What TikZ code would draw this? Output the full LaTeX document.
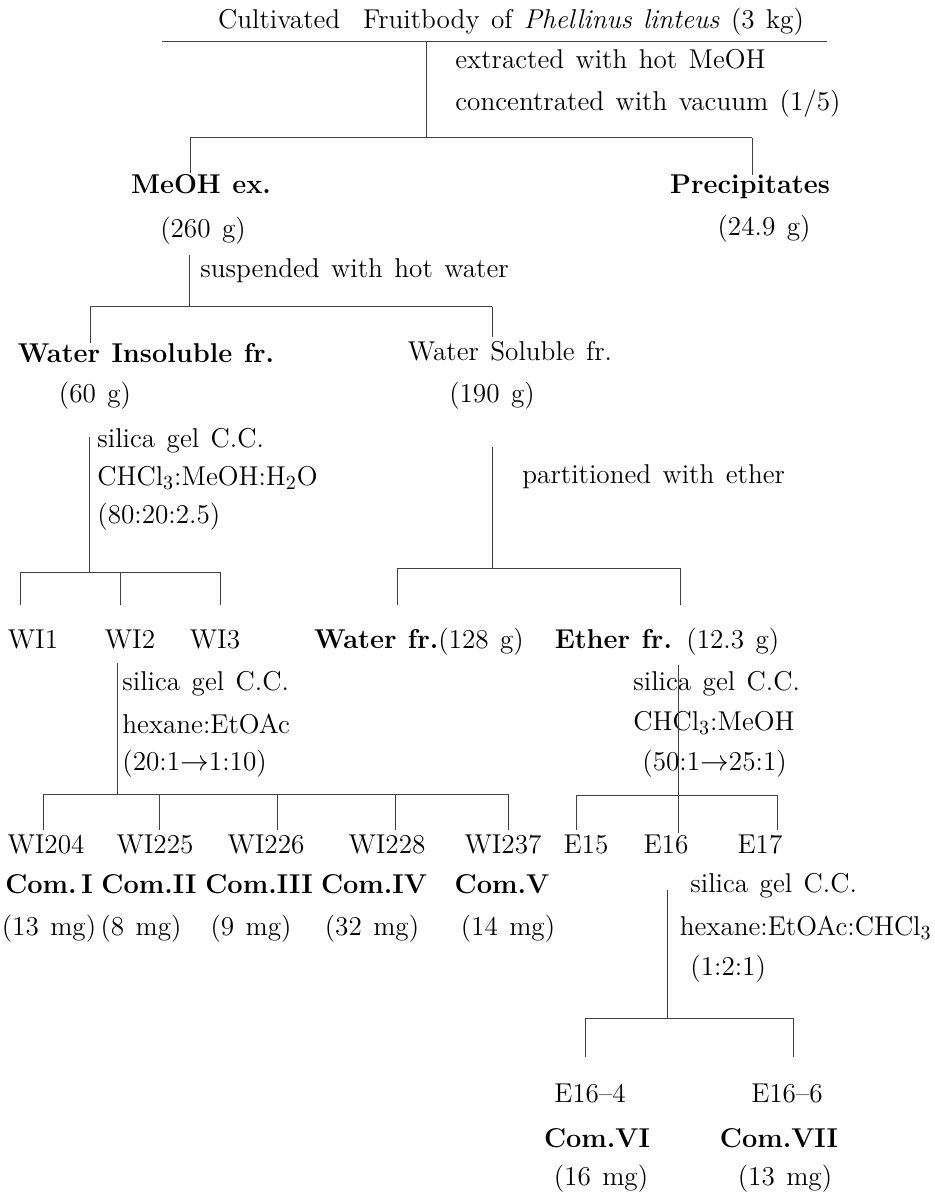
\documentclass[tikz,border=0pt]{standalone}
\newcommand{\fsz}{\fontsize{13.6}{16}\selectfont\spaceskip=0.42em plus 0.1em}
\begin{document}
\begin{tikzpicture}[x=0.5pt,y=-0.5pt,
  txt/.style={inner sep=0pt, text height=1.5ex, text depth=0.25ex, font=\fsz},
  txtl/.style={txt, anchor=west},
  txtb/.style={txt, font=\fsz\bfseries},
  link/.style={draw=black!75, line width=0.5pt}]
\useasboundingbox (0,0) rectangle (935,1192);

% ---- starting material and MeOH extraction ----
\node[txt] (src) at (511,23) {Cultivated\ \ Fruitbody of \textit{Phellinus linteus} (3 kg)};
\node[txtl] (ext1) at (455,63) {extracted with hot MeOH};
\node[txtl] (ext2) at (455,105) {concentrated with vacuum (1/5)};
\node[txtb] (meoh) at (201,188) {MeOH ex.};
\node[txt] (meohw) at (203,232) {(260 g)};
\node[txtb] (prec) at (750,188) {Precipitates};
\node[txt] (precw) at (764,230) {(24.9 g)};

\coordinate (ulL) at (162,42);
\coordinate (ulR) at (827,42);
\coordinate (s1) at (426,42);
\coordinate (j1) at (426,138);
\coordinate (b1L) at (190,138);
\coordinate (b1R) at (752,138);
\coordinate (d1L) at (190,173);
\coordinate (d1R) at (752,175);
\draw[link] (ulL) -- (ulR);
\draw[link] (s1) -- (j1);
\draw[link] (b1L) -- (b1R);
\draw[link] (b1L) -- (d1L);
\draw[link] (b1R) -- (d1R);

% ---- suspension in hot water ----
\node[txtl] (susp) at (200,272) {suspended with hot water};
\node[txtb] (wins) at (146,357) {Water Insoluble fr.};
\node[txt] (winsw) at (95,397) {(60 g)};
\node[txt] (wsol) at (510,355) {Water Soluble fr.};
\node[txt] (wsolw) at (492,397) {(190 g)};

\coordinate (s2) at (189,255);
\coordinate (j2) at (189,307);
\coordinate (b2L) at (90,307);
\coordinate (b2R) at (492,307);
\coordinate (d2L) at (90,343);
\coordinate (d2R) at (492,337);
\draw[link] (s2) -- (j2);
\draw[link] (b2L) -- (b2R);
\draw[link] (b2L) -- (d2L);
\draw[link] (b2R) -- (d2R);

% ---- water insoluble fraction: silica gel column ----
\node[txtl] (cc1a) at (97,442) {silica gel C.C.};
\node[txtl] (cc1b) at (97,480) {CHCl$_3$:MeOH:H$_2$O};
\node[txtl] (cc1c) at (97,518) {(80:20:2.5)};
\node[txt] (wi1) at (33,643) {WI1};
\node[txt] (wi2) at (130,643) {WI2};
\node[txt] (wi3) at (215,643) {WI3};

\coordinate (s3) at (89,437);
\coordinate (j3) at (89,572);
\coordinate (b3L) at (20,572);
\coordinate (b3M) at (120,572);
\coordinate (b3R) at (220,572);
\coordinate (d3L) at (20,605);
\coordinate (d3M) at (120,605);
\coordinate (d3R) at (220,605);
\draw[link] (s3) -- (j3);
\draw[link] (b3L) -- (b3R);
\draw[link] (b3L) -- (d3L);
\draw[link] (b3M) -- (d3M);
\draw[link] (b3R) -- (d3R);

% ---- water soluble fraction: ether partition ----
\node[txtl] (part) at (522,478) {partitioned with ether};
\node[txt] (wfr) at (419,643) {\textbf{Water fr.}(128 g)};
\node[txt] (efr) at (667,643) {\textbf{Ether fr.} (12.3 g)};

\coordinate (s4) at (492,447);
\coordinate (j4) at (492,568);
\coordinate (b4L) at (397,568);
\coordinate (b4R) at (680,568);
\coordinate (d4L) at (397,605);
\coordinate (d4R) at (680,605);
\draw[link] (s4) -- (j4);
\draw[link] (b4L) -- (b4R);
\draw[link] (b4L) -- (d4L);
\draw[link] (b4R) -- (d4R);

% ---- WI2: silica gel column ----
\node[txtl] (cc2a) at (122,685) {silica gel C.C.};
\node[txtl] (cc2b) at (122,728) {hexane:EtOAc};
\node[txtl] (cc2c) at (122,765) {(20:1$\rightarrow$1:10)};
\node[txt] (wi204) at (46,848) {WI204};
\node[txt] (wi225) at (155,848) {WI225};
\node[txt] (wi226) at (266,848) {WI226};
\node[txt] (wi228) at (387,848) {WI228};
\node[txt] (wi237) at (503,848) {WI237};
\node[txtb] (c1) at (49,888) {Com.\,I};
\node[txtb] (c2) at (149,888) {Com.II};
\node[txtb] (c3) at (259,888) {Com.III};
\node[txtb] (c4) at (374,888) {Com.IV};
\node[txtb] (c5) at (502,888) {Com.V};
\node[txt] (m1) at (49,930) {(13 mg)};
\node[txt] (m2) at (141,930) {(8 mg)};
\node[txt] (m3) at (251,930) {(9 mg)};
\node[txt] (m4) at (372,930) {(32 mg)};
\node[txt] (m5) at (508,930) {(14 mg)};

\coordinate (s5) at (117,663);
\coordinate (j5) at (117,794);
\coordinate (b5a) at (43,794);
\coordinate (b5b) at (159,794);
\coordinate (b5c) at (277,794);
\coordinate (b5d) at (395,794);
\coordinate (b5e) at (508,794);
\coordinate (d5a) at (43,830);
\coordinate (d5b) at (159,830);
\coordinate (d5c) at (277,830);
\coordinate (d5d) at (395,830);
\coordinate (d5e) at (508,830);
\draw[link] (s5) -- (j5);
\draw[link] (b5a) -- (b5e);
\foreach \p in {a,b,c,d,e} \draw[link] (b5\p) -- (d5\p);

% ---- ether fraction: silica gel column ----
\node[txtl] (cc3a) at (633,685) {silica gel C.C.};
\node[txtl] (cc3b) at (633,725) {CHCl$_3$:MeOH};
\node[txtl] (cc3c) at (642,765) {(50:1$\rightarrow$25:1)};
\node[txt] (e15) at (586,848) {E15};
\node[txt] (e16) at (666,848) {E16};
\node[txt] (e17) at (760,848) {E17};

\coordinate (s6) at (678,665);
\coordinate (j6) at (678,795);
\coordinate (d6M) at (678,833);
\coordinate (b6L) at (576,795);
\coordinate (b6R) at (777,795);
\coordinate (d6L) at (576,830);
\coordinate (d6R) at (777,830);
\draw[link] (s6) -- (d6M);
\draw[link] (b6L) -- (b6R);
\draw[link] (b6L) -- (d6L);
\draw[link] (b6R) -- (d6R);

% ---- E16: silica gel column ----
\node[txtl] (cc4a) at (690,887) {silica gel C.C.};
\node[txt, anchor=east] (cc4b) at (932,930) {hexane:EtOAc:CHCl$_3$};
\node[txtl] (cc4c) at (690,970) {(1:2:1)};
\node[txt] (e164) at (590,1097) {E16--4};
\node[txt] (e166) at (787,1097) {E16--6};
\node[txtb] (c6) at (597,1142) {Com.VI};
\node[txtb] (c7) at (779,1142) {Com.VII};
\node[txt] (m6) at (601,1180) {(16 mg)};
\node[txt] (m7) at (785,1180) {(13 mg)};

\coordinate (s7) at (667,890);
\coordinate (j7) at (667,1018);
\coordinate (b7L) at (585,1018);
\coordinate (b7R) at (793,1018);
\coordinate (d7L) at (585,1057);
\coordinate (d7R) at (793,1057);
\draw[link] (s7) -- (j7);
\draw[link] (b7L) -- (b7R);
\draw[link] (b7L) -- (d7L);
\draw[link] (b7R) -- (d7R);
\end{tikzpicture}
\end{document}
